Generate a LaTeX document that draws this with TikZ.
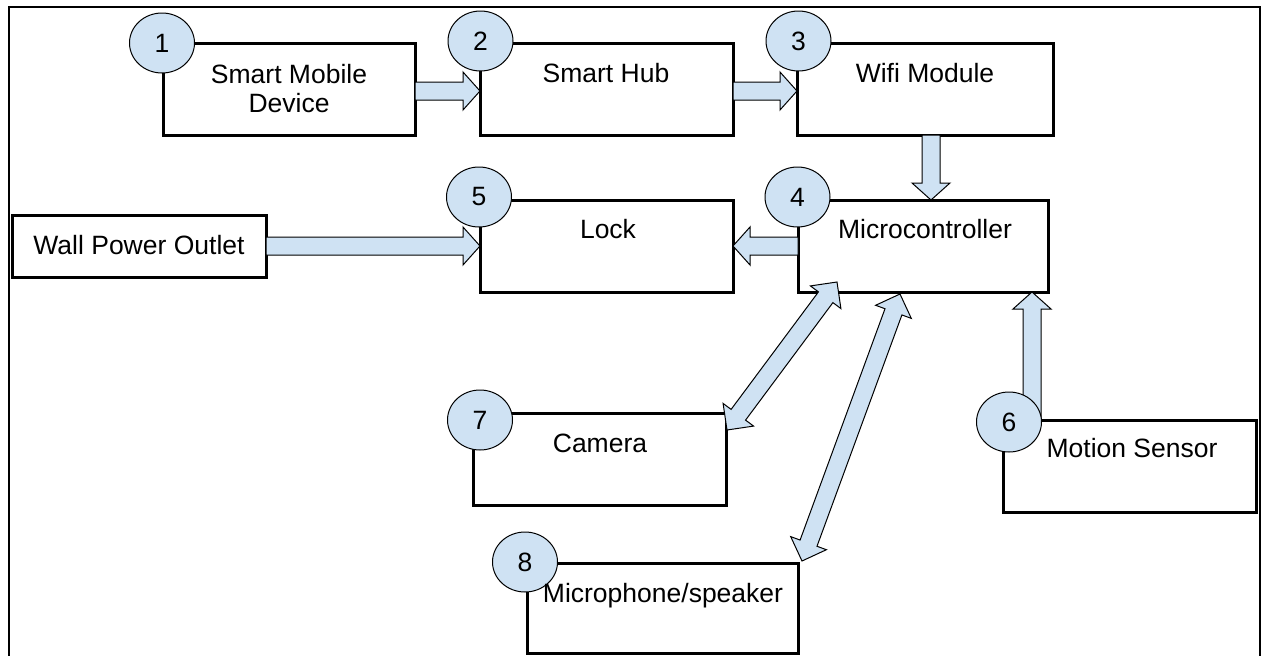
\documentclass[tikz,border=0pt]{standalone}
\usepackage{fontspec}
\setmainfont{Liberation Sans}
\usetikzlibrary{calc,shapes.geometric}
\definecolor{chipblue}{HTML}{CFE2F3}

% single-headed block arrow: tail -> tip (both named coordinates)
\newcommand\flowarrow[2]{%
  \path (#2) coordinate (fa-t) ($(#2)!17pt!(#1)$) coordinate (fa-h);
  \filldraw[arrowbody]
    ($(#1)!9pt!90:(#2)$) -- ($(fa-h)!9pt!90:(fa-t)$) -- ($(fa-h)!19pt!90:(fa-t)$)
    -- (fa-t)
    -- ($(fa-h)!19pt!-90:(fa-t)$) -- ($(fa-h)!9pt!-90:(fa-t)$) -- ($(#1)!9pt!-90:(#2)$) -- cycle;
}
% double-headed block arrow between two named coordinates
\newcommand\flowdarrow[2]{%
  \path ($(#1)!19pt!(#2)$) coordinate (fa-g) ($(#2)!19pt!(#1)$) coordinate (fa-h);
  \filldraw[arrowbody]
    (#1) -- ($(fa-g)!19pt!90:(#2)$) -- ($(fa-g)!9pt!90:(#2)$)
    -- ($(fa-h)!9pt!90:(#2)$) -- ($(fa-h)!19pt!90:(#2)$) -- (#2)
    -- ($(fa-h)!19pt!-90:(#2)$) -- ($(fa-h)!9pt!-90:(#2)$)
    -- ($(fa-g)!9pt!-90:(#2)$) -- ($(fa-g)!19pt!-90:(#2)$) -- cycle;
}

\tikzset{
  unitbox/.style={draw, line width=3pt, inner sep=0pt, outer sep=0pt, rectangle},
  boxtext/.style={anchor=base, inner sep=0pt, font=\fontsize{26.5}{30}\selectfont},
  badge/.style={ellipse, draw, line width=1pt, fill=chipblue, minimum width=65pt,
    minimum height=60pt, inner sep=0pt, font=\fontsize{26.5}{30}\selectfont},
  arrowbody/.style={fill=chipblue, draw=black, line width=1pt, line join=miter},
}

\begin{document}
\begin{tikzpicture}[x=1pt,y=-1pt]
\useasboundingbox (0,0) rectangle (1262,656);
\clip (0,0) rectangle (1262,656);

% outer frame (runs off the bottom edge)
\draw[line width=1.5pt] (9,670) -- (9,7) -- (1260,7) -- (1260,670);

% component boxes
\node[unitbox, minimum width=252pt, minimum height=92pt] (mobile) at (289,89) {};
\node[unitbox, minimum width=253pt, minimum height=92pt] (hub)    at (606.5,89) {};
\node[unitbox, minimum width=256pt, minimum height=92pt] (wifi)   at (925,89) {};
\node[unitbox, minimum width=254pt, minimum height=62pt] (wall)   at (139,246) {};
\node[unitbox, minimum width=253pt, minimum height=92pt] (lock)   at (606.5,246) {};
\node[unitbox, minimum width=250pt, minimum height=92pt] (micro)  at (923,246) {};
\node[unitbox, minimum width=253pt, minimum height=92pt] (motion) at (1129.5,466) {};
\node[unitbox, minimum width=253pt, minimum height=92pt] (cam)    at (599.5,459) {};
\node[unitbox, minimum width=271pt, minimum height=90pt] (mic)    at (662.5,608) {};

% arrow end points
\coordinate (p1) at ($(mobile.east)+(0,2)$);
\coordinate (p2) at ($(hub.west)+(0,2)$);
\coordinate (p3) at ($(hub.east)+(0,2)$);
\coordinate (p4) at ($(wifi.west)+(0,2)$);
\coordinate (p5) at ($(wifi.south)+(6,0)$);
\coordinate (p6) at (p5 |- micro.north);
\coordinate (p7) at ($(motion.north west)+(29,-1)$);
\coordinate (p8) at (p7 |- micro.south);
\coordinate (camend) at ($(cam.north east)+(1,17)$);
\coordinate (camtop) at ($(micro.south west)+(39,-10)$);
\coordinate (micend) at ($(mic.north east)+(4,-2)$);
\coordinate (mictop) at ($(micro.south west)+(102,2)$);

% signal flow
\flowarrow{p1}{p2}
\flowarrow{p3}{p4}
\flowarrow{p5}{p6}
\flowarrow{wall.east}{lock.west}
\flowarrow{micro.west}{lock.east}
\flowarrow{p7}{p8}
\flowdarrow{camend}{camtop}
\flowdarrow{micend}{mictop}

% numbered badges
\node[badge] (n1) at (162,43)    {1};
\node[badge] (n2) at (480.5,41)  {2};
\node[badge] (n3) at (798.5,41)  {3};
\node[badge] (n4) at (797.5,197) {4};
\node[badge] (n5) at (479,197)   {5};
\node[badge] (n6) at (1009,422)  {6};
\node[badge] (n7) at (480,420)   {7};
\node[badge] (n8) at (525,562)   {8};

% box captions
\node[boxtext] (t1a) at (289,83)    {Smart Mobile};
\node[boxtext] (t1b) at (289,112)   {Device};
\node[boxtext] (t2)  at (606,82)    {Smart Hub};
\node[boxtext] (t3)  at (925,82)    {Wifi Module};
\node[boxtext] (t5)  at (608,238)   {Lock};
\node[boxtext] (t4)  at (925,238)   {Microcontroller};
\node[boxtext] (tw)  at (139,254)   {Wall Power Outlet};
\node[boxtext] (t7)  at (600,452)   {Camera};
\node[boxtext] (t6)  at (1132,457)  {Motion Sensor};
\node[boxtext] (t8)  at (663,602)   {Microphone/speaker};
\end{tikzpicture}
\end{document}
